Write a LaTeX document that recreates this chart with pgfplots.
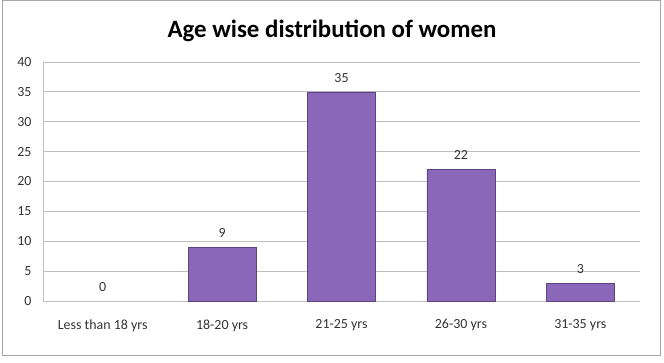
\documentclass[border=0pt]{standalone}
\usepackage{pgfplots}
\pgfplotsset{compat=1.18}
\usepackage{fontspec}
\setmainfont{Carlito}
\definecolor{barfill}{HTML}{8A67B8}
\definecolor{baredge}{HTML}{5B4480}
\definecolor{gridc}{HTML}{BFBFBF}
\definecolor{txt}{HTML}{333333}
\begin{document}
\begin{tikzpicture}[x=1bp,y=1bp]
\useasboundingbox (0,0) rectangle (664,362);
\draw[gray!70, line width=0.8bp] (2.5,7) rectangle (660.5,361.5);
\node[font=\fontsize{25}{30}\selectfont\bfseries, text=black] at (332,331) {Age wise distribution of women};
\begin{axis}[
  at={(43bp,61bp)}, anchor=south west,
  scale only axis, width=597bp, height=239bp,
  ymin=0, ymax=40, ytick={0,5,...,40},
  xmin=-0.5, xmax=4.5, xtick={0,1,2,3,4},
  xticklabels={Less than 18 yrs,18-20 yrs,21-25 yrs,26-30 yrs,31-35 yrs},
  ymajorgrids, grid style={gridc, line width=0.8bp},
  axis x line*=bottom, axis y line*=left,
  axis line style={gridc, line width=0.8bp},
  major tick length=0pt,
  tick label style={font=\fontsize{14}{16}\selectfont, text=txt},
  /pgf/number format/assume math mode=true,
  xticklabel style={yshift=-15bp},
  yticklabel style={xshift=-8bp},
  ybar, bar width=68bp, bar shift=0pt,
  nodes near coords,
  nodes near coords style={font=\fontsize{14}{16}\selectfont, text=txt, yshift=6bp},
]
\addplot[fill=barfill, draw=baredge, line width=0.6bp] coordinates {(1,9) (2,35) (3,22) (4,3)};
\addplot[draw=none, fill=none] coordinates {(0,0)};
\end{axis}
\end{tikzpicture}
\end{document}
